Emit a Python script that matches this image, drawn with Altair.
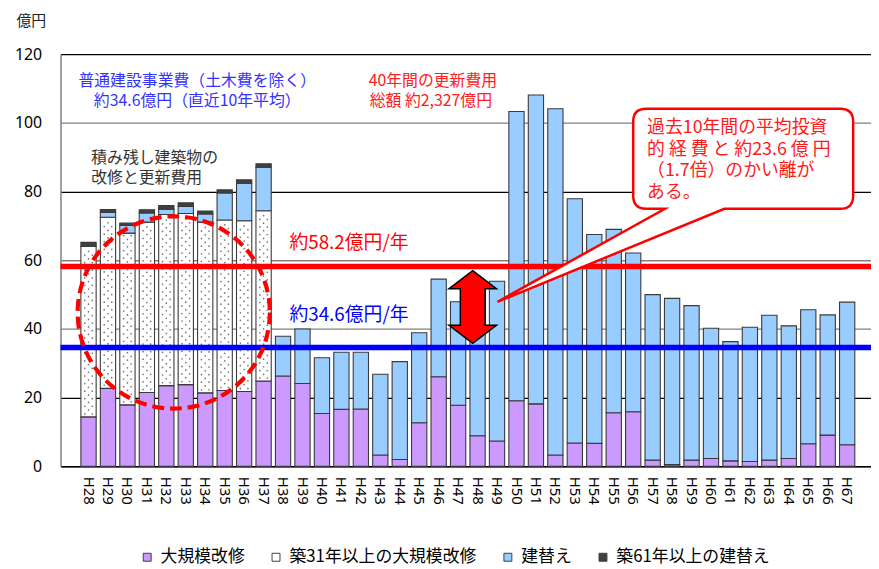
import altair as alt
import pandas as pd

JP = "Noto Sans CJK JP"
LAT = "Noto Sans"

# ---- data ----
years = ["H28", "H29", "H30", "H31", "H32", "H33", "H34", "H35", "H36", "H37",
         "H38", "H39", "H40", "H41", "H42", "H43", "H44", "H45", "H46", "H47",
         "H48", "H49", "H50", "H51", "H52", "H53", "H54", "H55", "H56", "H57",
         "H58", "H59", "H60", "H61", "H62", "H63", "H64", "H65", "H66", "H67"]

kaishu = [14.4, 22.7, 17.9, 21.5, 23.5, 23.8, 21.4, 22.1, 21.8, 24.8,
          26.3, 24.1, 15.4, 16.6, 16.7, 3.3, 2.0, 12.7, 26.1, 17.8,
          8.9, 7.4, 19.1, 18.2, 3.3, 6.8, 6.7, 15.6, 15.9, 1.8,
          0.5, 1.8, 2.3, 1.6, 1.4, 1.8, 2.3, 6.6, 9.1, 6.3]

kaishu31 = [49.6, 49.8, 50.0, 49.6, 49.8, 49.8, 49.7, 49.6, 49.7, 49.6,
            0, 0, 0, 0, 0, 0, 0, 0, 0, 0,
            0, 0, 0, 0, 0, 0, 0, 0, 0, 0,
            0, 0, 0, 0, 0, 0, 0, 0, 0, 0]

tatekae = [0.0, 1.4, 2.2, 2.7, 1.6, 2.1, 2.4, 7.9, 10.9, 12.7,
           11.6, 15.9, 16.2, 16.6, 16.5, 23.5, 28.5, 26.2, 28.4, 30.1,
           45.1, 46.5, 84.2, 89.9, 100.8, 71.1, 60.8, 53.4, 46.2, 48.2,
           48.4, 45.0, 37.9, 34.7, 39.1, 42.2, 38.6, 39.0, 35.0, 41.5]

tatekae61 = [1.2, 0.9, 0.7, 0.9, 1.0, 1.0, 0.8, 0.9, 1.0, 1.0,
             0, 0, 0, 0, 0, 0, 0, 0, 0, 0,
             0, 0, 0, 0, 0, 0, 0, 0, 0, 0,
             0, 0, 0, 0, 0, 0, 0, 0, 0, 0]

series_names = ["大規模改修", "築31年以上の大規模改修", "建替え", "築61年以上の建替え"]
series_colors = ["#CC99FF", "#FFFFFF", "#99CCFF", "#404040"]

avg_renewal = 58.2   # 約58.2億円/年
avg_recent = 34.6    # 約34.6億円/年

y_ticks = [0, 20, 40, 60, 80, 100, 120]

callout_lines = ["過去10年間の平均投資", "的 経 費 と 約23.6 億 円", "（1.7倍）のかい離が", "ある。"]

# ---- tables ----
rows = []
for i, yr in enumerate(years):
    for k, vals in enumerate([kaishu, kaishu31, tatekae, tatekae61]):
        rows.append({"year": yr, "series": series_names[k], "value": vals[i], "k": k})
df = pd.DataFrame(rows)

# dotted texture for the 築31年以上 segments
dot_rows = []
for i, yr in enumerate(years):
    if kaishu31[i] <= 0:
        continue
    lo = kaishu[i]
    hi = kaishu[i] + kaishu31[i]
    v = lo + 0.9
    r = 0
    while v < hi - 0.6:
        dot_rows.append({"year": yr, "v": v, "row": r % 2})
        v += 1.1
        r += 1
dots_df = pd.DataFrame(dot_rows)

# ---- scales / encodings ----
x_scale = alt.Scale(domain=years, paddingInner=0.215, paddingOuter=0.94, align=0.557)
y_scale = alt.Scale(domain=[0, 120], nice=False)

x_axis = alt.Axis(title=None, labelAngle=90, labelFontSize=15, labelFont=LAT,
                  labelColor="#000000", ticks=False, labelPadding=10,
                  domainColor="#000000", domainWidth=1.5, grid=False)
y_axis = alt.Axis(title=None, values=y_ticks, ticks=False, labelPadding=19,
                  labelFontSize=16, labelFont=LAT, labelColor="#000000",
                  domainColor="#808080", domainWidth=1.5, grid=True,
                  gridColor={"condition": {"test": "datum.value == 20 || datum.value == 80 || datum.value == 120",
                                           "value": "#000000"},
                             "value": "#808080"},
                  gridWidth=1.3)

x_enc = alt.X("year:N", sort=years, scale=x_scale, axis=x_axis)

bars = alt.Chart(df).transform_filter(alt.datum.value > 0).mark_bar(
    stroke="#3a3a3a", strokeWidth=1.1
).encode(
    x=x_enc,
    y=alt.Y("value:Q", stack="zero", scale=y_scale, axis=y_axis),
    color=alt.Color("series:N",
                    scale=alt.Scale(domain=series_names, range=series_colors),
                    legend=alt.Legend(orient="none", legendX=79, legendY=499,
                                      direction="horizontal", title=None,
                                      symbolType="square", symbolSize=64,
                                      symbolStrokeColor="#404040", symbolStrokeWidth=1,
                                      labelFontSize=17, labelFont=JP, labelColor="#000000",
                                      labelLimit=0, columnPadding=23, labelOffset=5)),
    order=alt.Order("k:Q", sort="ascending"),
)

def dot_layer(row, offset):
    return alt.Chart(dots_df).transform_filter(alt.datum.row == row).mark_point(
        filled=True, size=3, color="#7a7a7a", opacity=1, xOffset=offset
    ).encode(x=x_enc, y=alt.Y("v:Q", scale=y_scale, axis=y_axis))

dots = dot_layer(0, -3.8) + dot_layer(0, 3.8) + dot_layer(1, 0)

red_rule = alt.Chart(pd.DataFrame({"v": [avg_renewal]})).mark_rule(
    color="#FF0000", strokeWidth=5.5).encode(y=alt.Y("v:Q", scale=y_scale, axis=y_axis))
blue_rule = alt.Chart(pd.DataFrame({"v": [avg_recent]})).mark_rule(
    color="#0000FF", strokeWidth=5.5).encode(y=alt.Y("v:Q", scale=y_scale, axis=y_axis))

red_rule_lbl = alt.Chart(pd.DataFrame({"v": [avg_renewal], "t": ["約58.2億円/年"]})).mark_text(
    align="left", baseline="middle", fontSize=19, font=JP, color="#FF0000", dy=-24
).encode(x=alt.value(231), y=alt.Y("v:Q", scale=y_scale, axis=y_axis), text="t:N")
blue_rule_lbl = alt.Chart(pd.DataFrame({"v": [avg_recent], "t": ["約34.6億円/年"]})).mark_text(
    align="left", baseline="middle", fontSize=19, font=JP, color="#0000FF", dy=-33
).encode(x=alt.value(231), y=alt.Y("v:Q", scale=y_scale, axis=y_axis), text="t:N")


def label(text, x, y, size, color, align="left", font=JP):
    return alt.Chart(pd.DataFrame({"t": [text]})).mark_text(
        align=align, baseline="middle", fontSize=size, font=font, color=color
    ).encode(x=alt.value(x), y=alt.value(y), text="t:N")


texts = [
    label("億円", -29.5, -33, 15, "#222222", align="center"),
    label("普通建設事業費（土木費を除く）", 138, 27.5, 16, "#3333FF", align="center"),
    label("約34.6億円（直近10年平均）", 138, 47.5, 16, "#3333FF", align="center"),
    label("40年間の更新費用", 311, 27.5, 16, "#FF2020"),
    label("総額 約2,327億円", 312, 47.5, 16, "#FF2020"),
    label("積み残し建築物の", 31, 105, 16, "#333333"),
    label("改修と更新費用", 31, 125, 16, "#333333"),
]

# dashed circle around the backlog bars
circle = alt.Chart(pd.DataFrame({"year": ["H32"], "v": [44.8]})).mark_point(
    shape="circle", size=37636, filled=False, stroke="#FF0000", strokeWidth=4.2,
    strokeDash=[12, 6], opacity=1, xOffset=7.5
).encode(x=x_enc, y=alt.Y("v:Q", scale=y_scale, axis=y_axis))

# double-headed arrow between the two averages
arrow_path = ("M0,-1 L0.654,-0.5 L0.34,-0.5 L0.34,0.5 L0.654,0.5 L0,1 "
              "L-0.654,0.5 L-0.34,0.5 L-0.34,-0.5 L-0.654,-0.5 Z")
arrow = alt.Chart(pd.DataFrame({"year": ["H48"], "v": [(avg_renewal + avg_recent) / 2]})).mark_point(
    shape=arrow_path, size=5388, filled=True, fill="#FF0000", stroke="#000000",
    strokeWidth=1.5, opacity=1, xOffset=-4.9
).encode(x=x_enc, y=alt.Y("v:Q", scale=y_scale, axis=y_axis))

# callout balloon
callout_path = ("M-0.1644,-0.5432 L0.9276,-0.5432 Q1,-0.5432 1,-0.4708 L1,-0.0529 "
                "Q1,0.0195 0.9276,0.0195 L0.2758,0.0195 L-1,0.5432 L-0.0585,0.0195 "
                "L-0.1644,0.0195 Q-0.2368,0.0195 -0.2368,-0.0529 L-0.2368,-0.4708 "
                "Q-0.2368,-0.5432 -0.1644,-0.5432 Z")
callout = alt.Chart(pd.DataFrame({"a": [0]})).mark_point(
    shape=callout_path, size=128881, filled=True, fill="#FFFFFF", stroke="#FF0000",
    strokeWidth=2.5, opacity=1
).encode(x=alt.value(620.5), y=alt.value(152.5))

callout_text = alt.Chart(pd.DataFrame({"t": ["\n".join(callout_lines)]})).mark_text(
    align="left", baseline="middle", fontSize=18, font=JP, color="#FF1A1A",
    lineBreak="\n", lineHeight=21.7
).encode(x=alt.value(592), y=alt.value(74.7), text="t:N")

chart = alt.layer(
    bars, dots, red_rule, blue_rule, red_rule_lbl, blue_rule_lbl,
    *texts, circle, arrow, callout, callout_text
).properties(
    width=818, height=416,
    autosize=alt.AutoSizeParams(type="none"),
    padding={"left": 53, "top": 44, "right": 0, "bottom": 101},
).configure_view(stroke=None)

chart.save("out.html", embed_options={"renderer": "svg", "actions": False})
